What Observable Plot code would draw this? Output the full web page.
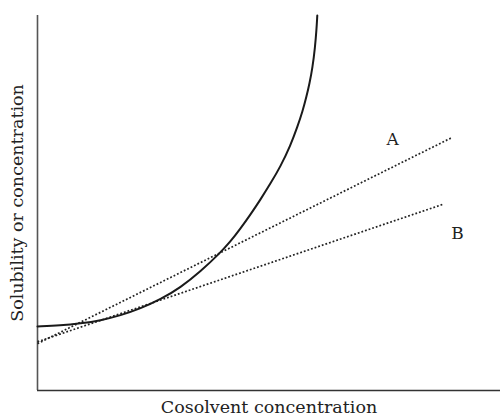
<!DOCTYPE html>
<html>
<head>
<meta charset="utf-8">
<script src="https://cdn.jsdelivr.net/npm/d3@7"></script>
<script src="https://cdn.jsdelivr.net/npm/@observablehq/plot@0.6"></script>
<style>
  html, body { margin: 0; padding: 0; background: #fff; }
  #chart svg { display: block; }
</style>
</head>
<body>
<div id="chart"></div>
<script>
// Solubility curve, arbitrary units
const curveX = [0, 0.497, 0.929, 1.361, 1.793, 2.225, 2.657, 3.089, 3.521, 3.952, 4.168, 4.384, 4.600, 4.816, 5.032, 5.248, 5.464, 5.616, 5.724, 5.810, 5.875, 5.940, 5.994, 6.026, 6.043];
const curveY = [1.707, 1.733, 1.787, 1.867, 2.0, 2.187, 2.427, 2.747, 3.173, 3.68, 3.973, 4.32, 4.693, 5.093, 5.52, 5.973, 6.533, 7.04, 7.44, 7.84, 8.187, 8.613, 9.147, 9.627, 10.0];

// Dotted straight lines A and B (start and end points)
const lineNames = ["A", "B"];
const lineX0 = [0, 0];
const lineY0 = [1.25, 1.30];
const lineX1 = [8.96, 8.77];
const lineY1 = [6.75, 4.97];

// Label positions
const labelX = [7.67, 9.07];
const labelY = [6.69, 4.19];

const xLabel = "Cosolvent concentration";
const yLabel = "Solubility or concentration";

const curve = curveX.map((x, i) => ({x, y: curveY[i]}));
const lines = lineNames.map((n, i) => ({n, x1: lineX0[i], y1: lineY0[i], x2: lineX1[i], y2: lineY1[i]}));
const labels = lineNames.map((n, i) => ({n, x: labelX[i], y: labelY[i]}));

const font = "'DejaVu Serif', 'Liberation Serif', serif";

const chart = Plot.plot({
  width: 500,
  height: 416,
  marginLeft: 37,
  marginRight: 0,
  marginTop: 15,
  marginBottom: 26,
  style: {fontFamily: font, background: "#fff"},
  x: {domain: [0, 10], axis: null},
  y: {domain: [0, 10], axis: null},
  marks: [
    Plot.ruleX([0], {stroke: "#555", strokeWidth: 1.6}),
    Plot.ruleY([0], {stroke: "#333", strokeWidth: 1.6}),
    Plot.link(lines, {x1: "x1", y1: "y1", x2: "x2", y2: "y2", stroke: "#222", strokeWidth: 1.7, strokeDasharray: "1.8,2"}),
    Plot.line(curve, {x: "x", y: "y", curve: "basis", stroke: "#1a1a1a", strokeWidth: 2}),
    Plot.text(labels, {x: "x", y: "y", text: "n", fontSize: 17, fill: "#222"}),
    Plot.text([xLabel], {text: d => d, frameAnchor: "bottom", textAnchor: "middle", dy: 22, fontSize: 17.5, fill: "#222"}),
    Plot.text([yLabel], {text: d => d, frameAnchor: "left", textAnchor: "middle", dx: -20, rotate: -90, fontSize: 17.5, fill: "#222"})
  ]
});
document.getElementById("chart").appendChild(chart);
</script>
</body>
</html>
